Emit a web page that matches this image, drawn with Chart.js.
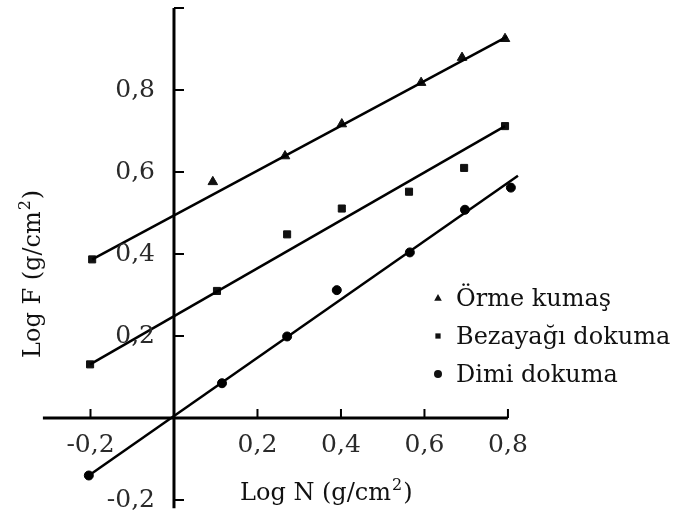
<!DOCTYPE html>
<html lang="tr">
<head>
<meta charset="UTF-8">
<title>Log F - Log N</title>
<script src="https://cdn.jsdelivr.net/npm/chart.js"></script>
<style>
  html, body { margin: 0; padding: 0; background: #fff; }
  .chart-box { width: 678px; height: 523px; position: relative; }
</style>
</head>
<body>
<div class="chart-box"><canvas id="logChart"></canvas></div>
<script>
// values
const ormeX = [0.093, 0.266, 0.402, 0.592, 0.690, 0.793];
const ormeY = [0.576, 0.639, 0.717, 0.818, 0.879, 0.925];
const bezX = [-0.196, -0.201, 0.103, 0.271, 0.402, 0.563, 0.695, 0.793];
const bezY = [0.387, 0.131, 0.310, 0.448, 0.511, 0.552, 0.610, 0.712];
const dimiX = [-0.204, 0.115, 0.271, 0.390, 0.565, 0.697, 0.807];
const dimiY = [-0.140, 0.085, 0.199, 0.312, 0.404, 0.508, 0.562];

// fitted lines (end points)
const ormeFitX = [-0.196, 0.798];
const ormeFitY = [0.387, 0.930];
const bezFitX = [-0.201, 0.793];
const bezFitY = [0.131, 0.712];
const dimiFitX = [-0.204, 0.824];
const dimiFitY = [-0.140, 0.591];

// axes
const xTicks = [-0.2, 0.2, 0.4, 0.6, 0.8];
const xTickLabels = ['-0,2', '0,2', '0,4', '0,6', '0,8'];
const yTicks = [-0.2, 0.2, 0.4, 0.6, 0.8];
const yTickLabels = ['-0,2', '0,2', '0,4', '0,6', '0,8'];
const yTickMarks = [-0.2, 0.2, 0.4, 0.6, 0.8, 1.0];
const xAxisRange = [-0.314, 0.8];
const yAxisRange = [-0.22, 1.0];

const seriesNames = ['Örme kumaş', 'Bezayağı dokuma', 'Dimi dokuma'];
const seriesStyles = ['triangle', 'rect', 'circle'];

const serif = '"DejaVu Serif", "Liberation Serif", serif';

function toPoints(xs, ys) {
    return xs.map((x, i) => ({ x: x, y: ys[i] }));
}

function marker(ctx, style, x, y, r) {
    ctx.beginPath();
    if (style === 'triangle') {
        ctx.moveTo(x, y - r);
        ctx.lineTo(x + r * 0.95, y + r * 0.7);
        ctx.lineTo(x - r * 0.95, y + r * 0.7);
        ctx.closePath();
    } else if (style === 'rect') {
        ctx.rect(x - r * 0.75, y - r * 0.75, r * 1.5, r * 1.5);
    } else {
        ctx.arc(x, y, r, 0, Math.PI * 2);
    }
    ctx.fill();
}

// draws "text (g/cm2)" with a raised 2, returns nothing
function unitTitle(ctx, head, x, y) {
    ctx.font = '24px ' + serif;
    ctx.fillText(head, x, y);
    x += ctx.measureText(head).width;
    ctx.font = '16px ' + serif;
    ctx.fillText('2', x + 1, y - 10);
    x += ctx.measureText('2').width + 2;
    ctx.font = '24px ' + serif;
    ctx.fillText(')', x, y);
}

// axes crossing at the origin, labels and legend
const crossAxes = {
    id: 'crossAxes',
    beforeDatasetsDraw(chart) {
        const ctx = chart.ctx, xs = chart.scales.x, ys = chart.scales.y;
        const x0 = xs.getPixelForValue(0), y0 = ys.getPixelForValue(0);
        ctx.save();
        ctx.strokeStyle = '#000';
        ctx.lineWidth = 3;
        ctx.beginPath();
        ctx.moveTo(xs.getPixelForValue(xAxisRange[0]), y0);
        ctx.lineTo(xs.getPixelForValue(xAxisRange[1]), y0);
        ctx.moveTo(x0, ys.getPixelForValue(yAxisRange[0]));
        ctx.lineTo(x0, ys.getPixelForValue(yAxisRange[1]));
        ctx.stroke();

        ctx.lineWidth = 2;
        ctx.beginPath();
        xTicks.forEach(v => {
            const px = xs.getPixelForValue(v);
            ctx.moveTo(px, y0);
            ctx.lineTo(px, y0 - 9);
        });
        yTickMarks.forEach(v => {
            const py = ys.getPixelForValue(v);
            ctx.moveTo(x0, py);
            ctx.lineTo(x0 + 10, py);
        });
        ctx.stroke();
        ctx.restore();
    },
    afterDraw(chart) {
        const ctx = chart.ctx, xs = chart.scales.x, ys = chart.scales.y;
        const x0 = xs.getPixelForValue(0), y0 = ys.getPixelForValue(0);
        ctx.save();
        ctx.fillStyle = '#2a2a2a';

        // tick labels
        ctx.font = '25px ' + serif;
        ctx.textAlign = 'center';
        ctx.textBaseline = 'alphabetic';
        xTicks.forEach((v, i) => {
            ctx.fillText(xTickLabels[i], xs.getPixelForValue(v), y0 + 34);
        });
        ctx.textAlign = 'right';
        ctx.textBaseline = 'middle';
        yTicks.forEach((v, i) => {
            ctx.fillText(yTickLabels[i], x0 - 19, ys.getPixelForValue(v));
        });

        // axis titles
        ctx.fillStyle = '#111';
        ctx.textAlign = 'left';
        ctx.textBaseline = 'alphabetic';
        unitTitle(ctx, 'Log N (g/cm', 240, 500);

        ctx.translate(40, 358);
        ctx.rotate(-Math.PI / 2);
        unitTitle(ctx, 'Log F (g/cm', 0, 0);
        ctx.setTransform(1, 0, 0, 1, 0, 0);

        // legend
        ctx.fillStyle = '#111';
        ctx.font = '24px ' + serif;
        seriesNames.forEach((name, i) => {
            const ly = 297 + i * 38;
            marker(ctx, seriesStyles[i], 438, ly + 1, i === 1 ? 3.5 : 4);
            ctx.fillText(name, 456, ly + 9);
        });
        ctx.restore();
    }
};

new Chart(document.getElementById('logChart'), {
    type: 'scatter',
    data: {
        datasets: [
            { data: toPoints(ormeFitX, ormeFitY), showLine: true, borderColor: '#000', borderWidth: 2.5, pointRadius: 0 },
            { data: toPoints(bezFitX, bezFitY), showLine: true, borderColor: '#000', borderWidth: 2.5, pointRadius: 0 },
            { data: toPoints(dimiFitX, dimiFitY), showLine: true, borderColor: '#000', borderWidth: 2.5, pointRadius: 0 },
            { label: seriesNames[0], data: toPoints(ormeX, ormeY), pointStyle: 'triangle', pointRadius: 5.5,
              backgroundColor: '#111', borderColor: '#111', borderWidth: 1 },
            { label: seriesNames[1], data: toPoints(bezX, bezY), pointStyle: 'rect', pointRadius: 5,
              backgroundColor: '#111', borderColor: '#111', borderWidth: 1 },
            { label: seriesNames[2], data: toPoints(dimiX, dimiY), pointStyle: 'circle', pointRadius: 4.5,
              backgroundColor: '#000', borderColor: '#000', borderWidth: 1 }
        ]
    },
    options: {
        responsive: true,
        maintainAspectRatio: false,
        animation: false,
        clip: false,
        layout: { padding: { left: 40.4, right: 145, top: 8, bottom: 2.9 } },
        plugins: { legend: { display: false }, tooltip: { enabled: false } },
        scales: {
            x: { type: 'linear', min: -0.32, max: 0.86, display: false },
            y: { type: 'linear', min: -0.24, max: 1.0, display: false }
        }
    },
    plugins: [crossAxes]
});
</script>
</body>
</html>
